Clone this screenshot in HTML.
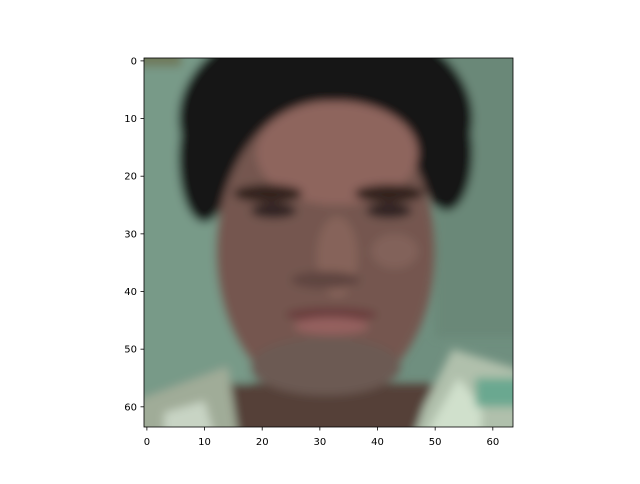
<!DOCTYPE html>
<html><head><meta charset="utf-8"><style>
body{margin:0;background:#fff;width:640px;height:480px;overflow:hidden;font-family:"DejaVu Sans","Liberation Sans",sans-serif}
</style></head><body>
<svg width="640" height="480" xmlns="http://www.w3.org/2000/svg">
<defs>
<filter id="b" x="-10%" y="-10%" width="120%" height="120%"><feGaussianBlur stdDeviation="0.8"/></filter>
<clipPath id="c"><rect x="-0.5" y="-0.5" width="64" height="64"/></clipPath>
</defs>
<svg x="144" y="58" width="369" height="369" viewBox="-0.5 -0.5 64 64" preserveAspectRatio="none">
<g clip-path="url(#c)">
<rect x="-0.5" y="-0.5" width="64" height="64" fill="#6f8f7f"/>
<g filter="url(#b)">
<rect x="-2" y="-2" width="20" height="70" fill="#789a88"/>
<rect x="50" y="-2" width="16" height="50" fill="#6a8878"/>
<rect x="-2" y="-2" width="8" height="3" fill="#6f7a5c"/>
<ellipse cx="31" cy="10" rx="25.5" ry="18" fill="#121816"/>
<ellipse cx="10" cy="17" rx="4.5" ry="11" fill="#121816"/>
<ellipse cx="52" cy="16" rx="4.5" ry="10" fill="#121816"/>
<ellipse cx="31" cy="33" rx="19" ry="26" fill="#75574f"/>
<ellipse cx="33" cy="16" rx="14" ry="9" fill="#8e655d"/>
<ellipse cx="33" cy="34" rx="3.5" ry="7" fill="#86645a"/>
<ellipse cx="43" cy="33" rx="4" ry="3" fill="#82625a"/>
<rect x="14" y="56" width="38" height="12" fill="#553f38"/>
<ellipse cx="31" cy="53" rx="13" ry="5" fill="#6c5a52"/>
<ellipse cx="21" cy="23" rx="6" ry="1.6" fill="#33241f"/>
<ellipse cx="42" cy="23" rx="6" ry="1.6" fill="#33241f"/>
<ellipse cx="22" cy="26" rx="4" ry="1.3" fill="#2e2420"/>
<ellipse cx="42" cy="26" rx="4" ry="1.3" fill="#2e2420"/>
<ellipse cx="31" cy="38" rx="6" ry="1.5" fill="#5e4540"/>
<ellipse cx="32" cy="44" rx="8" ry="1.3" fill="#6a3e3c"/>
<ellipse cx="32" cy="46" rx="6.5" ry="1.5" fill="#94605e"/>
<polygon points="-2,59 14,53 16,66 -2,66" fill="#a0ac98"/>
<polygon points="3,61 10,59 12,66 3,66" fill="#c8d4c4"/>
<polygon points="48,60 53,50 66,54 66,66 46,66" fill="#b0c0ac"/>
<polygon points="50,62 54,55 58,60 58,66 48,66" fill="#d0e0cc"/>
<rect x="57" y="55" width="9" height="5" fill="#6aa890"/>
</g>
</g>
</svg>
<rect x="144" y="58" width="369" height="369" fill="none" stroke="#000" stroke-width="0.8"/>
<g id="xt"></g>
<g id="yt"></g>
</svg>
<script>
const xTicks=[0,10,20,30,40,50,60];
const yTicks=[0,10,20,30,40,50,60];
const X0=144,Y0=58,S=369/64;
const ns="http://www.w3.org/2000/svg";
const xs=v=>X0+(v+0.5)*S, ys=v=>Y0+(v+0.5)*S;
const xg=document.getElementById('xt'),yg=document.getElementById('yt');
xTicks.forEach(t=>{
 const l=document.createElementNS(ns,'line');
 
 
 l.setAttribute('x1',xs(t));l.setAttribute('x2',xs(t));l.setAttribute('y1',427);l.setAttribute('y2',430.5);l.setAttribute('stroke','#000');l.setAttribute('stroke-width','0.8');
 xg.appendChild(l);
 const tx=document.createElementNS(ns,'text');
 
 
 tx.setAttribute('x',xs(t));tx.setAttribute('y',445);tx.setAttribute('text-anchor','middle');tx.setAttribute('font-size','10');
 tx.textContent=t;xg.appendChild(tx);
});
yTicks.forEach(t=>{
 const l=document.createElementNS(ns,'line');
 
 
 l.setAttribute('y1',ys(t));l.setAttribute('y2',ys(t));l.setAttribute('x1',140.5);l.setAttribute('x2',144);l.setAttribute('stroke','#000');l.setAttribute('stroke-width','0.8');
 yg.appendChild(l);
 const tx=document.createElementNS(ns,'text');
 
 
 tx.setAttribute('x',137);tx.setAttribute('y',ys(t)+3.5);tx.setAttribute('text-anchor','end');tx.setAttribute('font-size','10');
 tx.textContent=t;yg.appendChild(tx);
});
</script>
</body></html>
